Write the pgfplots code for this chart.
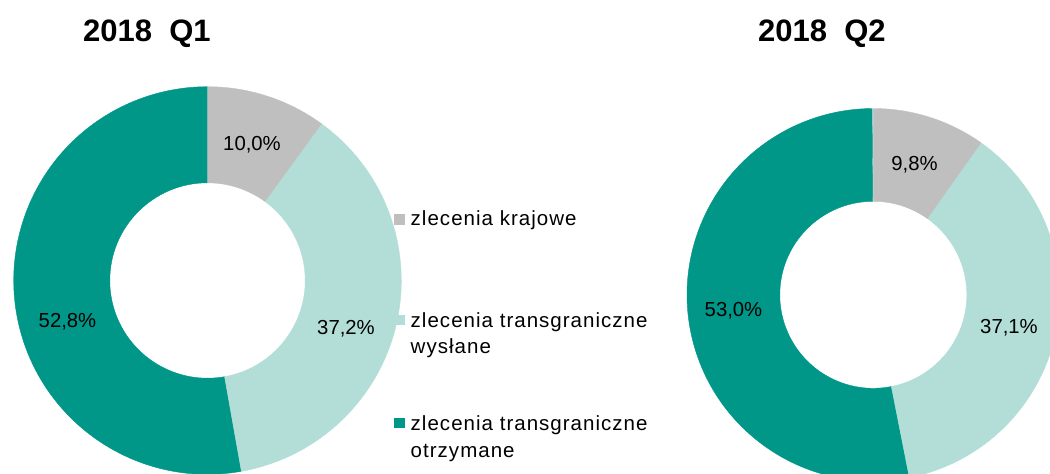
\documentclass[border=0pt]{standalone}
\usepackage{pgfplots}
\usepackage{pgfplotstable}
\pgfplotsset{compat=1.18}
\usepackage{fontspec}
\setmainfont{Liberation Sans}
\newfontfamily\legfont[LetterSpace=5]{Liberation Sans}
\definecolor{cgrey}{RGB}{191,191,191}
\definecolor{clight}{RGB}{179,222,216}
\definecolor{cdark}{RGB}{0,150,136}

% share (%), label base position (px)
\pgfplotstableread{
share lx ly
10.0 252 150.7
37.2 346 334
52.8 67.5 327
}\qone
\pgfplotstableread{
share lx ly
9.8 914.5 170
37.1 1009 333
53.0 733.5 316
}\qtwo

\newcommand{\slice}[5]{%
  \filldraw[fill=#1, draw=#1, line width=0.4pt, line join=round] ([shift={(#2:#4)}]C) arc[start angle=#2, end angle=#3, radius=#4]
     -- ([shift={(#3:#5)}]C) arc[start angle=#3, end angle=#2, radius=#5] -- cycle;}

\newcommand{\donut}[5]{% table, cx, cy, rout, rin
  \path (axis cs:#2,#3) coordinate (C);
  \pgfplotstablegetelem{0}{share}\of{#1}\let\vA\pgfplotsretval
  \pgfplotstablegetelem{1}{share}\of{#1}\let\vB\pgfplotsretval
  \pgfplotstablegetelem{2}{share}\of{#1}\let\vC\pgfplotsretval
  \pgfmathsetmacro\aB{90-3.6*\vA}
  \pgfmathsetmacro\aC{\aB-3.6*\vB}
  \pgfmathsetmacro\aD{\aC-3.6*\vC}
  \slice{cdark}{\aC}{\aD}{#4}{#5}
  \slice{clight}{\aB}{\aC}{#4}{#5}
  \slice{cgrey}{90}{\aB}{#4}{#5}
  \foreach \i in {0,1,2}{%
    \pgfplotstablegetelem{\i}{share}\of{#1}\let\v\pgfplotsretval
    \pgfplotstablegetelem{\i}{lx}\of{#1}\let\lx\pgfplotsretval
    \pgfplotstablegetelem{\i}{ly}\of{#1}\let\ly\pgfplotsretval
    \node[anchor=base, inner sep=0pt, font=\fontsize{20.3}{24}\selectfont] at (axis cs:\lx,\ly)
      {\pgfmathprintnumber[fixed,fixed zerofill,precision=1,use comma,assume math mode=true]{\v}\%};
  }%
}

\begin{document}
\begin{tikzpicture}
\begin{axis}[
  at={(0,0)}, anchor=south west,
  width=1050pt, height=474pt, scale only axis,
  xmin=0, xmax=1050, ymin=0, ymax=474, y dir=reverse,
  hide axis, clip=true,
]
\pgfplotsextra{
  \donut{\qone}{207.5}{280.5}{193.8pt}{97.7pt}
  \donut{\qtwo}{873.3}{294.8}{186.3pt}{93.5pt}
  % titles
  \node[anchor=base west, inner sep=0pt, font=\fontsize{31}{36}\selectfont\bfseries] at (axis cs:83,41.7) {2018\ \ Q1};
  \node[anchor=base west, inner sep=0pt, font=\fontsize{31}{36}\selectfont\bfseries] at (axis cs:758,41.7) {2018\ \ Q2};
  % legend
  \fill[cgrey]  (axis cs:393.5,214.3) rectangle (axis cs:405,224.8);
  \fill[clight] (axis cs:393.5,314.5) rectangle (axis cs:405,325);
  \fill[cdark]  (axis cs:393.5,417.7) rectangle (axis cs:405,428.3);
  \begin{scope}[every node/.style={anchor=base west, inner sep=0pt, font=\legfont\fontsize{20.5}{24}\selectfont}]
  \node at (axis cs:410.5,225) {zlecenia krajowe};
  \node at (axis cs:410.5,327) {zlecenia transgraniczne};
  \node at (axis cs:410.5,353) {wysłane};
  \node at (axis cs:410.5,430) {zlecenia transgraniczne};
  \node at (axis cs:410.5,457) {otrzymane};
  \end{scope}
}
\end{axis}
\pgfresetboundingbox
\useasboundingbox (0,0) rectangle (1050pt,474pt);
\end{tikzpicture}
\end{document}
